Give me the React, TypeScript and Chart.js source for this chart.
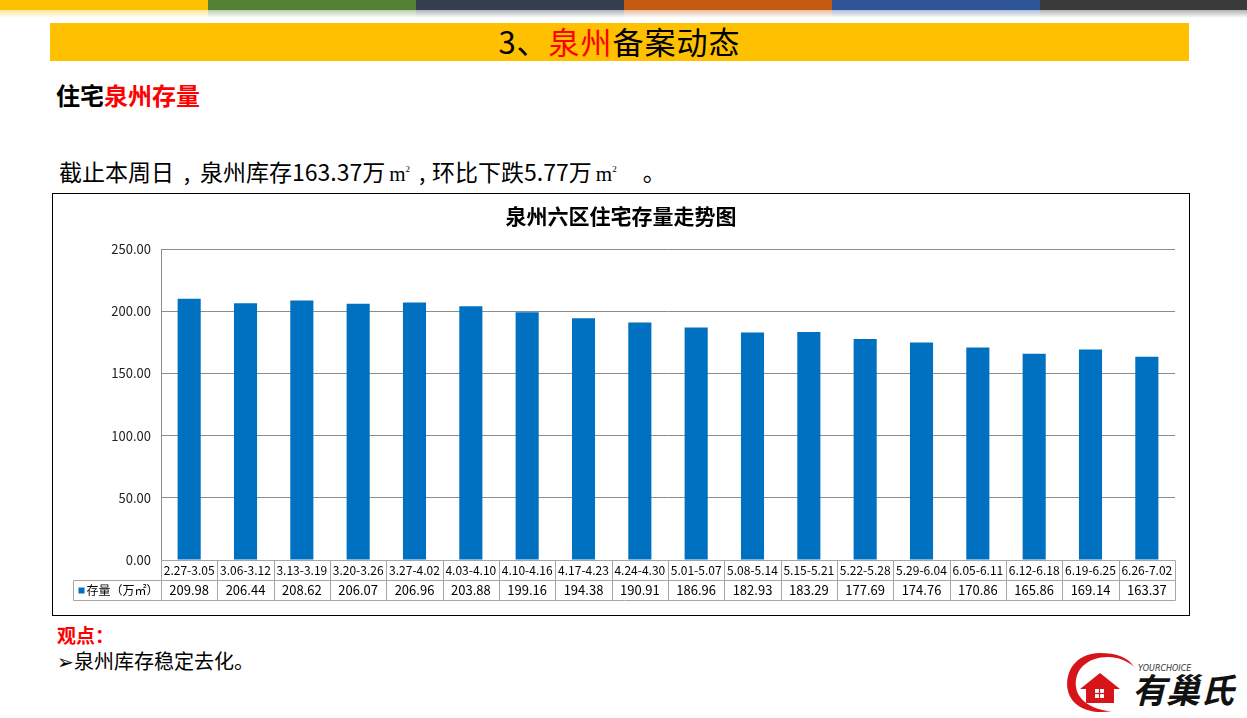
import React, { useEffect, useRef } from "react";
import { Chart, registerables } from "chart.js";

Chart.register(...registerables);

const categories = [
  "2.27-3.05", "3.06-3.12", "3.13-3.19", "3.20-3.26", "3.27-4.02", "4.03-4.10",
  "4.10-4.16", "4.17-4.23", "4.24-4.30", "5.01-5.07", "5.08-5.14", "5.15-5.21",
  "5.22-5.28", "5.29-6.04", "6.05-6.11", "6.12-6.18", "6.19-6.25", "6.26-7.02",
];
const stockValues = [
  209.98, 206.44, 208.62, 206.07, 206.96, 203.88, 199.16, 194.38, 190.91,
  186.96, 182.93, 183.29, 177.69, 174.76, 170.86, 165.86, 169.14, 163.37,
];
const seriesName = "存量（万㎡）";
const chartTitle = "泉州六区住宅存量走势图";
const yTicks = [0, 50, 100, 150, 200, 250];

const FONT = '"Noto Sans CJK SC", "Noto Sans", sans-serif';
const SERIF = '"Liberation Serif", "DejaVu Serif", serif';
const BAR = "#0070C0";

const tablePlugin = {
  id: "dataTable",
  afterDraw(chart: any) {
    const { ctx, chartArea, scales } = chart;
    const xs = scales.x;
    const ys = scales.y;
    const top = Math.round(ys.getPixelForValue(0)) + 0.5;
    const rowH = 20;
    const left = Math.round(chartArea.left) + 0.5;
    const right = Math.round(chartArea.right) + 0.5;
    const n = categories.length;
    const cw = (chartArea.right - chartArea.left) / n;
    const legendLeft = 20.5;
    ctx.save();
    // title
    ctx.fillStyle = "#000";
    ctx.font = `bold 21px ${FONT}`;
    ctx.textAlign = "center";
    ctx.textBaseline = "middle";
    ctx.fillText(chartTitle, chart.width / 2, 22);

    ctx.strokeStyle = "#A6A6A6";
    ctx.lineWidth = 1;
    ctx.beginPath();
    ctx.moveTo(left, top);
    ctx.lineTo(right, top);
    ctx.moveTo(legendLeft, top + rowH);
    ctx.lineTo(right, top + rowH);
    ctx.moveTo(legendLeft, top + 2 * rowH);
    ctx.lineTo(right, top + 2 * rowH);
    ctx.moveTo(legendLeft, top + rowH);
    ctx.lineTo(legendLeft, top + 2 * rowH);
    for (let i = 0; i <= n; i++) {
      const px = Math.round(chartArea.left + i * cw) + 0.5;
      ctx.moveTo(px, top);
      ctx.lineTo(px, top + 2 * rowH);
    }
    ctx.stroke();

    ctx.fillStyle = "#000";
    ctx.textAlign = "center";
    ctx.textBaseline = "middle";
    for (let i = 0; i < n; i++) {
      const cx = xs.getPixelForValue(i);
      ctx.font = `12px ${FONT}`;
      ctx.fillText(categories[i], cx, top + rowH / 2);
      ctx.font = `13px ${FONT}`;
      ctx.fillText(stockValues[i].toFixed(2), cx, top + rowH * 1.5);
    }
    // legend cell
    ctx.fillStyle = BAR;
    ctx.fillRect(legendLeft + 5, top + rowH * 1.5 - 3, 6, 6);
    ctx.fillStyle = "#000";
    ctx.font = `12px ${FONT}`;
    ctx.textAlign = "left";
    ctx.fillText(seriesName, legendLeft + 13, top + rowH * 1.5);
    ctx.restore();
  },
};

function ChartBox() {
  const ref = useRef<HTMLCanvasElement | null>(null);
  useEffect(() => {
    if (!ref.current) return;
    const chart = new Chart(ref.current, {
      type: "bar",
      data: {
        labels: categories,
        datasets: [
          {
            label: seriesName,
            data: stockValues,
            backgroundColor: BAR,
            barPercentage: 0.41,
            categoryPercentage: 1,
          },
        ],
      },
      options: {
        responsive: false,
        animation: false,
        layout: { padding: { top: 55, bottom: 55, right: 14, left: 0 } },
        plugins: { legend: { display: false }, title: { display: false }, tooltip: { enabled: false } },
        scales: {
          x: { display: false, offset: true },
          y: {
            min: 0,
            max: 250,
            afterBuildTicks: (s: any) => {
              s.ticks = yTicks.map((v) => ({ value: v }));
            },
            afterFit: (s: any) => {
              s.width = 108;
            },
            ticks: {
              padding: 10,
              color: "#222",
              font: { family: FONT, size: 13 },
              callback: (v: any) => Number(v).toFixed(2),
            },
            grid: { color: "#8C8C8C", tickLength: 0, drawTicks: false },
            border: { display: true, color: "#8C8C8C" },
          },
        },
      },
      plugins: [tablePlugin],
    });
    return () => chart.destroy();
  }, []);
  return (
    <div
      style={{
        position: "absolute",
        left: 52,
        top: 193,
        width: 1138,
        height: 423,
        border: "1px solid #000",
        boxSizing: "border-box",
        background: "#fff",
      }}
    >
      <canvas ref={ref} width={1136} height={421} style={{ display: "block", width: 1136, height: 421 }} />
    </div>
  );
}

const stripColors = ["#FFC000", "#548235", "#333F50", "#C55A11", "#2F5597", "#3A3A3A"];

function Comma({ w }: { w: number }) {
  return <span style={{ display: "inline-block", width: w, textAlign: "center" }}>,</span>;
}

function SqM() {
  return (
    <span style={{ fontFamily: SERIF, fontSize: 21, marginLeft: 4, marginRight: 2 }}>
      m<span style={{ fontSize: 9, verticalAlign: "9px" }}>2</span>
    </span>
  );
}

export default function App() {
  return (
    <div style={{ position: "absolute", left: 0, top: 0, width: 1247, height: 718, background: "#fff", fontFamily: FONT, overflow: "hidden" }}>
      {stripColors.map((c, i) => (
        <div key={i} style={{ position: "absolute", left: i * 208, top: 0, width: i === 5 ? 207 : 208, height: 18 }}>
          <div style={{ height: 10, background: c }} />
          <div style={{ height: 8, background: `linear-gradient(${c}66, #ffffff00)` }} />
        </div>
      ))}
      <div
        style={{
          position: "absolute",
          left: 50,
          top: 23,
          width: 1139,
          height: 38,
          background: "#FFC000",
          textAlign: "center",
          fontSize: 31,
          letterSpacing: 1,
          lineHeight: "36px",
          color: "#000",
          whiteSpace: "nowrap",
        }}
      >
        3、<span style={{ color: "#FF0000" }}>泉州</span>备案动态
      </div>
      <div style={{ position: "absolute", left: 56, top: 80, fontSize: 24, fontWeight: "bold", lineHeight: "30px", color: "#000" }}>
        住宅<span style={{ color: "#FF0000" }}>泉州存量</span>
      </div>
      <div style={{ position: "absolute", left: 59, top: 154, fontSize: 23, lineHeight: "30px", color: "#000", whiteSpace: "nowrap" }}>
        截止本周日<Comma w={26} />泉州库存163.37万<SqM /><Comma w={20} />环比下跌5.77万<SqM /><span style={{ marginLeft: 24 }}>。</span>
      </div>
      <ChartBox />
      <div style={{ position: "absolute", left: 57, top: 622, fontSize: 19, fontWeight: "bold", lineHeight: "26px", color: "#FF0000" }}>
        观点：
      </div>
      <div style={{ position: "absolute", left: 57, top: 647, fontSize: 20, lineHeight: "28px", color: "#000", whiteSpace: "nowrap" }}>
        ➢泉州库存稳定去化。
      </div>
      <svg style={{ position: "absolute", left: 1060, top: 645 }} width={187} height={73} viewBox="0 0 187 73">
        <path d="M40 8 C 15 8, 4 28, 8 46 C 12 62, 30 70, 52 66 C 38 66, 18 58, 16 42 C 14 24, 28 12, 48 12 C 58 12, 68 16, 74 22 C 68 12, 56 8, 40 8 Z" fill="#D7141A" />
        <path d="M20 44 L 40 28 L 60 44 L 54 44 L 54 58 L 26 58 L 26 44 Z" fill="#D7141A" />
        <rect x={35} y={44} width={9} height={9} fill="#fff" />
        <line x1={39.5} y1={44} x2={39.5} y2={53} stroke="#D7141A" strokeWidth={1.2} />
        <line x1={35} y1={48.5} x2={44} y2={48.5} stroke="#D7141A" strokeWidth={1.2} />
        <text x={78} y={26} fontSize={8} fontStyle="italic" fill="#333" fontFamily="DejaVu Sans">YOURCHOICE</text>
        <text x={72} y={58} fontSize={34} fontWeight="bold" fontStyle="italic" fill="#111" fontFamily={FONT}>有巢氏</text>
      </svg>
    </div>
  );
}
